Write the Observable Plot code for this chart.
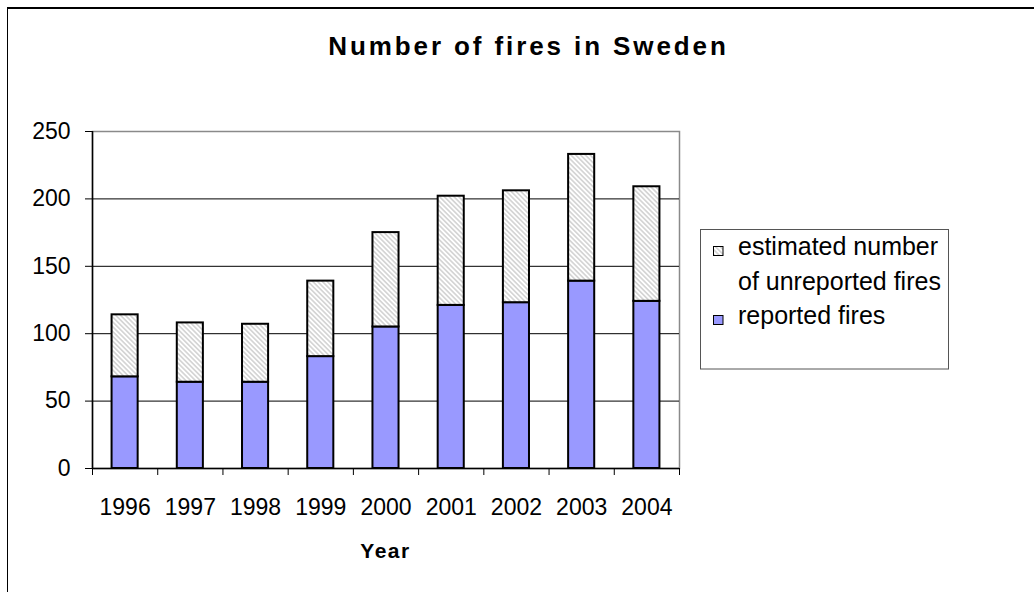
<!DOCTYPE html>
<html>
<head>
<meta charset="utf-8">
<script src="https://cdn.jsdelivr.net/npm/d3@7"></script>
<script src="https://cdn.jsdelivr.net/npm/@observablehq/plot@0.6"></script>
<style>
  html, body { margin: 0; padding: 0; background: #fff; }
  #wrap { position: relative; width: 1034px; height: 592px; overflow: hidden; font-family: "Liberation Sans", Arial, sans-serif; }
  #wrap svg { position: absolute; left: 0; top: 0; }
</style>
</head>
<body>
<div id="wrap">
  <svg width="0" height="0" style="position:absolute">
    <defs>
      <pattern id="hatch" patternUnits="userSpaceOnUse" width="3.4" height="3.4" patternTransform="rotate(45)">
        <rect width="3.4" height="3.4" fill="#ffffff"></rect>
        <line x1="0" y1="1.7" x2="3.4" y2="1.7" stroke="#c8c8c8" stroke-width="1.3"></line>
      </pattern>
    </defs>
  </svg>
</div>
<script>
// ---- data ----
const title = "Number of fires in Sweden";
const xTitle = "Year";
const years = [1996, 1997, 1998, 1999, 2000, 2001, 2002, 2003, 2004];
const reported = [68, 64, 64, 83, 105, 121, 123, 139, 124];
const unreported = [46, 44, 43, 56, 70, 81, 83, 94, 85];
const yTicks = [0, 50, 100, 150, 200, 250];
const gridValues = [50, 100, 150, 200];
const legendUnreported = ["estimated number", "of unreported fires"];
const legendReported = ["reported fires"];

const table = years.map((year, i) => ({
  year,
  reported: reported[i],
  unreported: unreported[i],
  total: reported[i] + unreported[i]
}));
const boundaries = years.map(y => y - 0.5).concat([years[years.length - 1] + 0.5]);

const font = "Liberation Sans, Arial, sans-serif";

const chart = Plot.plot({
  width: 1034,
  height: 592,
  marginLeft: 92,
  marginRight: 355,
  marginTop: 131,
  marginBottom: 124,
  style: { background: "transparent", fontFamily: font, fontSize: "23px", color: "#000", overflow: "visible" },
  x: { type: "linear", domain: [boundaries[0], boundaries[boundaries.length - 1]] },
  y: { domain: [0, 250] },
  marks: [
    Plot.frame({ stroke: "#8a8a8a", strokeWidth: 1.5 }),
    Plot.ruleY(gridValues, { stroke: "#000", strokeWidth: 1 }),
    Plot.rectY(table, { x1: d => d.year - 0.2, x2: d => d.year + 0.2, y1: 0, y2: "reported", fill: "#9999ff", stroke: "#000", strokeWidth: 2 }),
    Plot.rectY(table, { x1: d => d.year - 0.2, x2: d => d.year + 0.2, y1: "reported", y2: "total", fill: "url(#hatch)", stroke: "#000", strokeWidth: 2 }),
    Plot.ruleX([boundaries[0]], { stroke: "#000", strokeWidth: 1.5 }),
    Plot.ruleY([0], { stroke: "#000", strokeWidth: 1.5 }),
    Plot.axisY({ ticks: yTicks, tickSize: 7, tickPadding: 15, label: null, fontSize: 23, tickFormat: d => String(d) }),
    Plot.axisX({ ticks: boundaries, tickSize: 7, tickFormat: () => "", label: null }),
    Plot.axisX({ ticks: years, tickSize: 0, tickPadding: 30, label: null, fontSize: 23, tickFormat: d => String(d) })
  ]
});
document.getElementById("wrap").appendChild(chart);

// ---- overlay: chart border, title, axis title, legend ----
const ov = d3.select("#wrap").append("svg")
  .attr("width", 1034).attr("height", 592)
  .style("font-family", font);

ov.append("line").attr("x1", 7).attr("x2", 1034).attr("y1", 8).attr("y2", 8).attr("stroke", "#000").attr("stroke-width", 2);
ov.append("line").attr("x1", 7.5).attr("x2", 7.5).attr("y1", 7).attr("y2", 592).attr("stroke", "#000").attr("stroke-width", 1);

ov.append("text").attr("x", 528.5).attr("y", 55).attr("text-anchor", "middle")
  .attr("font-size", 26).attr("font-weight", "bold").attr("letter-spacing", "2.9px").text(title);

ov.append("text").attr("x", 385.5).attr("y", 558).attr("text-anchor", "middle")
  .attr("font-size", 21).attr("font-weight", "bold").attr("letter-spacing", "1.5px").text(xTitle);

const lg = ov.append("g");
lg.append("rect").attr("x", 700.5).attr("y", 229.5).attr("width", 248).attr("height", 139.5)
  .attr("fill", "#fff").attr("stroke", "#555").attr("stroke-width", 1);
lg.append("rect").attr("x", 713.5).attr("y", 246.5).attr("width", 9.5).attr("height", 9)
  .attr("fill", "url(#hatch)").attr("stroke", "#000").attr("stroke-width", 1);
lg.append("rect").attr("x", 713.5).attr("y", 315.5).attr("width", 9.5).attr("height", 9)
  .attr("fill", "#9999ff").attr("stroke", "#000").attr("stroke-width", 1);
legendUnreported.forEach((t, i) => {
  lg.append("text").attr("x", 738).attr("y", 254.7 + i * 35).attr("font-size", 25).text(t);
});
legendReported.forEach((t, i) => {
  lg.append("text").attr("x", 738).attr("y", 324 + i * 35).attr("font-size", 25).text(t);
});
</script>
</body>
</html>
